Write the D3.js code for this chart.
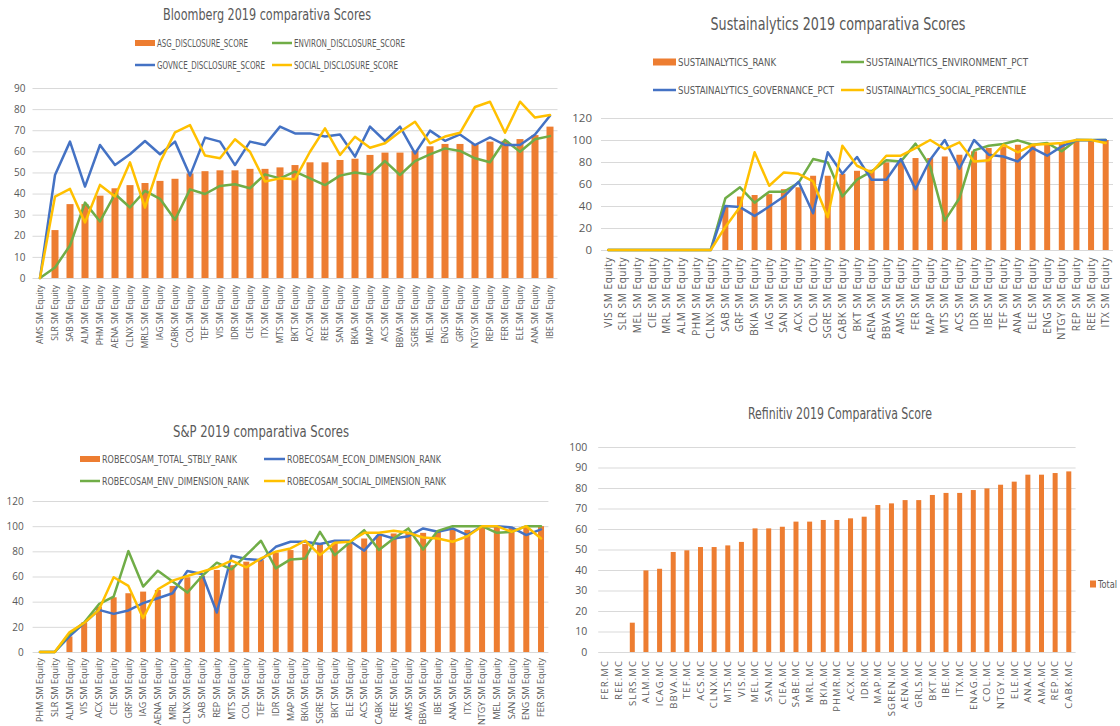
<!DOCTYPE html>
<html lang="en">
<head>
<meta charset="UTF-8">
<title>ESG 2019 comparativa Scores</title>
<style>
    body { margin: 0; background: #fff; }
    svg { display: block; }
</style>
</head>
<body>
<svg id="chart" width="1120" height="726"></svg>
<script src="https://cdn.jsdelivr.net/npm/d3@7/dist/d3.min.js"></script>
<script>
    // ---- Bloomberg ----
    var bbgCats = ["AMS","SLR","SAB","ALM","PHM","AENA","CLNX","MRLS","IAG","CABK","COL","TEF","VIS","IDR","CIE","ITX","MTS","BKT","ACX","REE","SAN","BKIA","MAP","ACS","BBVA","SGRE","MEL","ENG","GRF","NTGY","REP","FER","ELE","ANA","IBE"];
    var bbgAsg = [0,22.7,35,35,39,42.5,44,45,46,47,49.5,50.6,51,51,51.7,51.7,52.4,53.5,54.8,54.8,55.9,56.5,58.3,59.4,59.4,60.3,62.4,63.5,63.5,63.5,64.6,65,65.8,67.7,71.7];
    var bbgEnv = [0,5,15.4,35.7,26.8,39.8,33.4,41.3,37.5,27.6,42,39.8,43.6,44.4,42.5,49.1,47.2,50.4,47.2,44,48.5,50,49,55.4,48.8,55.4,58.6,61.4,60.2,56.7,54.8,65.4,59.8,65.7,67.2];
    var bbgGov = [0,48.8,64.6,43.3,63,53.5,58.6,64.9,58.6,64.6,48.5,66.5,64.6,53.5,64.6,63,71.7,68.5,68.5,67,68,57.5,71.7,64.9,71.7,59,69.8,65,68,63,66.6,63,63,68,76.9];
    var bbgSoc = [0,38.6,42.2,26.3,44.1,38.6,54.8,33.4,54.8,69,72.4,58,56.7,65.7,59.8,45.7,47.2,46.8,59.8,70.9,58.3,66.9,61.7,63.8,69.3,74,63.8,67,68.8,81,83.5,68.8,83.5,76,77.2];

    // ---- Sustainalytics ----
    var susCats = ["VIS","SLR","MEL","CIE","MRL","ALM","PHM","CLNX","SAB","GRF","BKIA","IAG","SAN","ACX","COL","SGRE","CABK","BKT","AENA","BBVA","AMS","FER","MAP","MTS","ACS","IDR","IBE","TEF","ANA","ELE","ENG","NTGY","REP","REE","ITX"];
    var susRank = [0,0,0,0,0,0,0,0,40,48.6,50,50.8,55.3,57,67.5,67.5,69.3,72,73,79.6,80.5,83.6,83.6,85,86.6,89.7,92.7,94.2,95.7,96,97,98,100,100,100];
    var susEnv = [0,0,0,0,0,0,0,0,47,57,43,53,53,61,82.7,79.6,48.6,64,71.4,81.5,80.5,96.7,76,26.7,47,90.6,94.8,96.4,99.7,95.7,97.3,89.7,100,100,100];
    var susGov = [0,0,0,0,0,0,0,0,40,39,31,39.5,48.6,62,33.4,88.8,69.3,84.5,63.8,63.8,82.7,55.3,82,100,73.9,100,86.6,85,80.5,92.7,85.7,94.2,100,99.7,100];
    var susSoc = [0,0,0,0,0,0,0,0,21,39,88.8,58.4,70.5,69.3,62.3,29.8,94.8,76.6,70.5,85.7,85.7,92.7,100,91.8,97.9,80.5,81.5,95.7,88.8,95.7,96.4,97.3,100,100,97.3];

    // ---- S&P ----
    var spCats = ["PHM","SLR","ALM","VIS","ACX","CIE","GRF","IAG","AENA","MRL","CLNX","SAB","REP","MTS","COL","TEF","IDR","MAP","BKIA","SGRE","BKT","ELE","ACS","CABK","REE","AMS","BBVA","IBE","ANA","ITX","NTGY","MEL","SAN","ENG","FER"];
    var spTotal = [0,0,12.4,23.5,36,43.5,46.7,48,49.3,52.5,59.4,60.4,65.2,69,71.8,73,79,81,85.8,85.8,86.8,86.8,90.2,92.9,94.2,94.7,94.7,95.5,97,97,100,100,99,99,100];
    var spEcon = [0,0,12.4,23,33.5,30.3,33,38.8,42.7,46.7,64.4,62,31.4,76.5,73.9,73,83.6,87.6,87.6,85.8,88.4,88.4,80.5,93.7,90.2,92,98.2,95.5,98.2,92.9,100,100,99,92.9,97.4];
    var spEnv = [0,0,14.5,23.5,38,44,80.2,52,64.6,56,47.2,60.4,71,65.7,77,88.4,66.5,73.6,74.4,95.5,77,86.8,96.8,81,90.2,98.2,81.5,96.3,100,100,100,94.7,95.5,100,100];
    var spSoc = [0,0,15.6,23,33.5,59.4,52.5,26.9,49.9,56.7,60.4,63.9,67.3,72.6,67.3,74.4,79.7,82.3,88.4,77,86.8,87.6,94.7,94.7,96.3,94.7,91,90.2,87.6,92,100,100,95.5,100,90.2];

    // ---- Refinitiv ----
    var refCats = ["FER.MC","REE.MC","SLRS.MC","ALM.MC","ICAG.MC","BBVA.MC","TEF.MC","ACS.MC","CLNX.MC","MTS.MC","VIS.MC","MEL.MC","SAN.MC","CIEA.MC","SABE.MC","MRL.MC","BKIA.MC","PHMR.MC","ACX.MC","IDR.MC","MAP.MC","SGREN.MC","AENA.MC","GRLS.MC","BKT.MC","IBE.MC","ITX.MC","ENAG.MC","COL.MC","NTGY.MC","ELE.MC","ANA.MC","AMA.MC","REP.MC","CABK.MC"];
    var refTotal = [0,0,14.3,39.8,40.6,48.8,49.6,51.2,51.2,52,53.7,60.3,60.3,61.1,63.6,63.6,64.4,64.4,65.2,66,71.7,72.5,74.1,74.1,76.6,77.6,77.6,79,79.8,81.6,83.1,86.5,86.5,87.3,88.1];

    var ORANGE = "#ED7D31", BLUE = "#4472C4", GREEN = "#70AD47", YELLOW = "#FFC000";
    var TXT = "#595959", GRID = "#D9D9D9";
    var narrow = '"Liberation Sans Narrow", "DejaVu Sans Condensed", sans-serif';
    var tickFont = '"Open Sans", "DejaVu Sans", sans-serif';

    var svg = d3.select("#chart");

    // squeeze a text to a given width (no narrow font available offline)
    function fit(sel, w) {
        if (w) sel.attr("textLength", w).attr("lengthAdjust", "spacingAndGlyphs");
    }

    function drawPanel(p) {
        var g = svg.append("g");
        var x = d3.scaleBand().domain(p.cats).range(p.xRange);
        var y = d3.scaleLinear().domain(p.yDomain).range(p.yRange);
        var ticks = d3.range(p.yDomain[0], p.yDomain[1] + 1, p.yStep);
        var cx = function (c) { return x(c) + x.bandwidth() / 2; };

        // gridlines
        g.append("g")
            .attr("transform", "translate(" + p.xRange[0] + ",0)")
            .call(d3.axisLeft(y).tickValues(ticks).tickSize(-(p.xRange[1] - p.xRange[0])).tickFormat(""))
            .call(function (a) {
                a.select(".domain").remove();
                a.selectAll("line").attr("stroke", GRID);
            });

        // y axis labels
        g.append("g")
            .attr("transform", "translate(" + p.xRange[0] + ",0)")
            .call(d3.axisLeft(y).tickValues(ticks).tickSize(0).tickPadding(p.yPad))
            .call(function (a) {
                a.select(".domain").remove();
                a.selectAll("text").attr("fill", TXT)
                    .style("font-family", tickFont).style("font-size", p.yFont + "px");
            });

        // x axis labels
        g.append("g")
            .attr("transform", "translate(0," + y(0) + ")")
            .call(d3.axisBottom(x).tickSize(0).tickFormat(function (d) { return p.fmt ? p.fmt(d) : d; }))
            .call(function (a) {
                a.select(".domain").remove();
                a.selectAll("text")
                    .attr("fill", TXT)
                    .attr("transform", "rotate(-90)")
                    .attr("x", -p.xGap).attr("y", 0).attr("dy", "0.35em")
                    .style("text-anchor", "end")
                    .style("font-family", tickFont)
                    .style("font-size", p.xFont + "px")
                    .style("letter-spacing", (p.xSpacing || 0) + "px");
            });

        // bars
        g.append("g").selectAll("rect")
            .data(p.bars)
            .enter().append("rect")
            .attr("x", function (d, i) { return cx(p.cats[i]) - p.barW / 2; })
            .attr("y", function (d) { return y(d); })
            .attr("width", p.barW)
            .attr("height", function (d) { return y(0) - y(d); })
            .attr("fill", ORANGE);

        // lines
        var line = d3.line()
            .x(function (d, i) { return cx(p.cats[i]); })
            .y(function (d) { return y(d); });
        (p.lines || []).forEach(function (s) {
            g.append("path")
                .datum(s.values)
                .attr("d", line)
                .attr("fill", "none")
                .attr("stroke", s.color)
                .attr("stroke-width", 2.5)
                .attr("stroke-linejoin", "round")
                .attr("stroke-linecap", "round");
        });

        // title
        g.append("text")
            .attr("x", p.title.x).attr("y", p.title.y)
            .attr("text-anchor", "middle")
            .attr("fill", TXT)
            .style("font-family", narrow)
            .style("font-size", p.title.size + "px")
            .text(p.title.text)
            .call(fit, p.title.w);

        // legend
        p.legend.forEach(function (l) {
            if (l.type === "bar") {
                g.append("rect").attr("x", l.x).attr("y", l.y - l.h / 2)
                    .attr("width", l.w).attr("height", l.h).attr("fill", l.color);
            } else {
                g.append("line").attr("x1", l.x).attr("x2", l.x + l.w)
                    .attr("y1", l.y).attr("y2", l.y)
                    .attr("stroke", l.color).attr("stroke-width", 2.5);
            }
            g.append("text").attr("x", l.x + l.w + 2).attr("y", l.y).attr("dy", "0.35em")
                .attr("fill", TXT)
                .style("font-family", narrow)
                .style("font-size", p.legendFont + "px")
                .text(l.label)
                .call(fit, l.tw);
        });
    }

    var eq = function (d) { return d + " SM Equity"; };

    drawPanel({
        cats: bbgCats, bars: bbgAsg,
        lines: [{values: bbgEnv, color: GREEN}, {values: bbgGov, color: BLUE}, {values: bbgSoc, color: YELLOW}],
        xRange: [32.5, 557.5], yDomain: [0, 90], yRange: [278, 88], yStep: 10,
        yPad: 7, yFont: 10, xGap: 7, xFont: 8.5, barW: 7, fmt: eq,
        title: {text: "Bloomberg 2019 comparativa Scores", x: 267, y: 20, size: 15, w: 208},
        legendFont: 10,
        legend: [
            {type: "bar", color: ORANGE, x: 135, y: 43, w: 20, h: 6, label: "ASG_DISCLOSURE_SCORE", tw: 91},
            {type: "line", color: GREEN, x: 272, y: 43, w: 20, label: "ENVIRON_DISCLOSURE_SCORE", tw: 111},
            {type: "line", color: BLUE, x: 135, y: 65, w: 20, label: "GOVNCE_DISCLOSURE_SCORE", tw: 108},
            {type: "line", color: YELLOW, x: 272, y: 65, w: 20, label: "SOCIAL_DISCLOSURE_SCORE", tw: 104}
        ]
    });

    drawPanel({
        cats: susCats, bars: susRank,
        lines: [{values: susEnv, color: GREEN}, {values: susGov, color: BLUE}, {values: susSoc, color: YELLOW}],
        xRange: [601, 1113], yDomain: [0, 120], yRange: [250, 118], yStep: 20,
        yPad: 9, yFont: 11.5, xGap: 7, xFont: 10, xSpacing: 0.6, barW: 6, fmt: eq,
        title: {text: "Sustainalytics 2019 comparativa Scores", x: 838, y: 30, size: 18, w: 255},
        legendFont: 11,
        legend: [
            {type: "bar", color: ORANGE, x: 653, y: 62, w: 23, h: 7, label: "SUSTAINALYTICS_RANK", tw: 98},
            {type: "line", color: GREEN, x: 841, y: 62, w: 23, label: "SUSTAINALYTICS_ENVIRONMENT_PCT", tw: 162},
            {type: "line", color: BLUE, x: 653, y: 90, w: 23, label: "SUSTAINALYTICS_GOVERNANCE_PCT", tw: 156},
            {type: "line", color: YELLOW, x: 841, y: 90, w: 23, label: "SUSTAINALYTICS_SOCIAL_PERCENTILE", tw: 160}
        ]
    });

    drawPanel({
        cats: spCats, bars: spTotal,
        lines: [{values: spEcon, color: BLUE}, {values: spEnv, color: GREEN}, {values: spSoc, color: YELLOW}],
        xRange: [32.6, 548.4], yDomain: [0, 120], yRange: [652, 501], yStep: 20,
        yPad: 9, yFont: 10, xGap: 6, xFont: 9, barW: 6, fmt: eq,
        title: {text: "S&P 2019 comparativa Scores", x: 261, y: 437, size: 15, w: 176},
        legendFont: 10.5,
        legend: [
            {type: "bar", color: ORANGE, x: 80, y: 459, w: 20, h: 6, label: "ROBECOSAM_TOTAL_STBLY_RANK", tw: 135},
            {type: "line", color: BLUE, x: 264, y: 459, w: 21, label: "ROBECOSAM_ECON_DIMENSION_RANK", tw: 154},
            {type: "line", color: GREEN, x: 80, y: 481, w: 20, label: "ROBECOSAM_ENV_DIMENSION_RANK", tw: 147},
            {type: "line", color: YELLOW, x: 264, y: 481, w: 21, label: "ROBECOSAM_SOCIAL_DIMENSION_RANK", tw: 159}
        ]
    });

    drawPanel({
        cats: refCats, bars: refTotal, lines: [],
        xRange: [598.2, 1075.6], yDomain: [0, 100], yRange: [652, 447], yStep: 10,
        yPad: 11, yFont: 10.5, xGap: 8, xFont: 9.5, xSpacing: 1.1, barW: 5,
        title: {text: "Refinitiv 2019 Comparativa Score", x: 840, y: 419, size: 15, w: 184},
        legendFont: 11,
        legend: [
            {type: "bar", color: ORANGE, x: 1090, y: 584, w: 6, h: 7, label: "Total", tw: 19}
        ]
    });
</script>
</body>
</html>
